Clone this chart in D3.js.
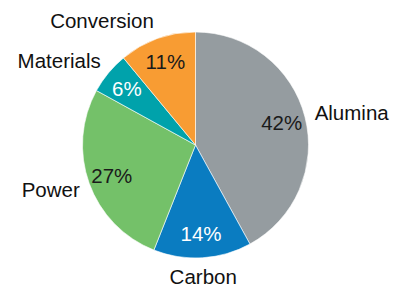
<!DOCTYPE html>
<html>
<head>
<meta charset="utf-8">
<script src="https://cdn.jsdelivr.net/npm/d3@7"></script>
<style>
  body { margin: 0; background: #fff; }
</style>
</head>
<body>
<div class="chart"></div>
<script>
// pie data, clockwise from 12 o'clock
var categories = ["Alumina", "Carbon", "Power", "Materials", "Conversion"];
var shares = [42, 14, 27, 6, 11];
var sliceColors = ["#959ca0", "#0a7cc1", "#74c169", "#00a2ab", "#f89c33"];
var pctColors = ["#1a1a1a", "#ffffff", "#1a1a1a", "#ffffff", "#1a1a1a"];

var svgWidth = 397;
var svgHeight = 287;
var cx = 195.5, cy = 145, radius = 113;

var data = categories.map(function (c, i) {
  return { name: c, value: shares[i], color: sliceColors[i], pctColor: pctColors[i] };
});

var svg = d3.select(".chart")
  .append("svg")
  .attr("width", svgWidth)
  .attr("height", svgHeight)
  .attr("font-family", "Arial, 'Liberation Sans', Helvetica, sans-serif");

var chartGroup = svg.append("g")
  .attr("transform", `translate(${cx}, ${cy})`);

var pie = d3.pie()
  .sort(null)
  .value(d => d.value);

var arc = d3.arc()
  .innerRadius(0)
  .outerRadius(radius);

var arcs = pie(data);

// slices
chartGroup.selectAll("path")
  .data(arcs)
  .enter()
  .append("path")
  .attr("d", arc)
  .attr("fill", d => d.data.color)
  .attr("stroke", "#fff")
  .attr("stroke-width", 0.6);

// percentage labels inside
var pctArc = d3.arc().innerRadius(89).outerRadius(89);
chartGroup.selectAll(".pct")
  .data(arcs)
  .enter()
  .append("text")
  .attr("class", "pct")
  .attr("transform", d => `translate(${pctArc.centroid(d)})`)
  .attr("text-anchor", "middle")
  .attr("dy", "0.36em")
  .attr("font-size", "20.5px")
  .attr("fill", d => d.data.pctColor)
  .text(d => d.data.value + "%");

// category labels outside
var outerR = radius + 10;
chartGroup.selectAll(".cat")
  .data(arcs)
  .enter()
  .append("text")
  .attr("class", "cat")
  .each(function (d) {
    var a = (d.startAngle + d.endAngle) / 2;
    var s = Math.sin(a), c = Math.cos(a);
    var x = s * outerR;
    var y = -c * outerR - c * 9;
    var anchor = Math.abs(s) < 0.1 ? "middle" : (s > 0 ? "start" : "end");
    d3.select(this)
      .attr("x", x)
      .attr("y", y)
      .attr("dy", "0.36em")
      .attr("text-anchor", anchor);
  })
  .attr("font-size", "20.5px")
  .attr("fill", "#111")
  .text(d => d.data.name);
</script>
</body>
</html>
